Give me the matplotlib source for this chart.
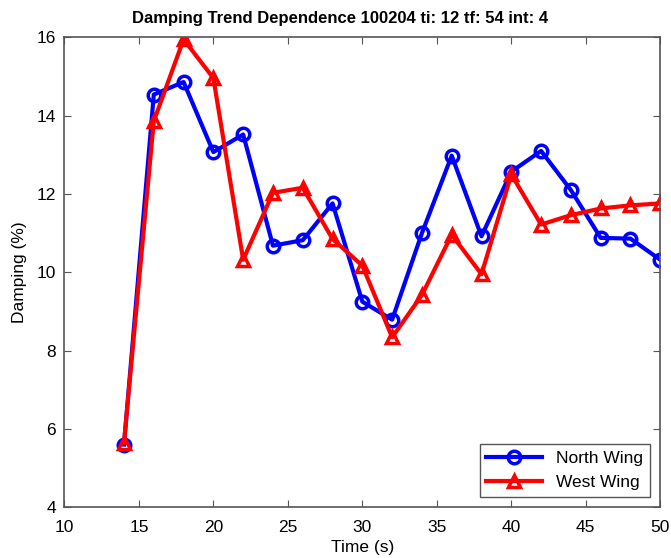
import matplotlib
matplotlib.use("Agg")
import matplotlib.pyplot as plt

plt.rcParams['font.family'] = ['Liberation Sans', 'DejaVu Sans']

# === Data ===
time_s = [14, 16, 18, 20, 22, 24, 26, 28, 30, 32, 34, 36, 38, 40, 42, 44, 46, 48, 50]
north_wing = [5.6, 14.54, 14.86, 13.07, 13.52, 10.68, 10.82, 11.76, 9.25, 8.79,
              11.0, 12.98, 10.92, 12.57, 13.1, 12.1, 10.88, 10.86, 10.32]
west_wing = [5.65, 13.86, 15.95, 14.96, 10.32, 12.03, 12.16, 10.85, 10.17, 8.34,
             9.42, 10.96, 9.95, 12.5, 11.22, 11.46, 11.63, 11.71, 11.76]

xticks = [10, 15, 20, 25, 30, 35, 40, 45, 50]
yticks = [4, 6, 8, 10, 12, 14, 16]

# === Plot ===
fig = plt.figure(figsize=(6.71, 5.58), dpi=100)
ax = fig.add_axes([0.096, 0.091, 0.888, 0.842])

ax.plot(time_s, north_wing, color="#0000ff", linewidth=3, marker="o",
        markersize=9, markerfacecolor="none", markeredgewidth=2.5, label="North Wing")
ax.plot(time_s, west_wing, color="#ff0000", linewidth=3, marker="^",
        markersize=9, markerfacecolor="none", markeredgewidth=2.5, label="West Wing")

ax.set_xlim(10, 50)
ax.set_ylim(4, 16)
ax.set_xticks(xticks)
ax.set_yticks(yticks)
ax.tick_params(direction="in", top=True, right=True, labelsize=12.5,
               length=5, color="#555555")
ax.tick_params(axis="x", pad=9)
ax.tick_params(axis="y", pad=6)
for s in ax.spines.values():
    s.set_color("#555555")
    s.set_linewidth(1.2)

ax.set_xlabel("Time (s)", fontsize=12.5, labelpad=4)
ax.set_ylabel("Damping (%)", fontsize=12.5, labelpad=7)
fig.text(0.507, 0.967, "Damping Trend Dependence 100204 ti: 12 tf: 54 int: 4",
         fontsize=12, fontweight="bold", ha="center", va="center")

leg = ax.legend(loc="lower right", fontsize=12.5, fancybox=False, framealpha=1,
                edgecolor="#555555", borderaxespad=0.6, handlelength=3.2)
leg.get_frame().set_linewidth(1.0)

fig.savefig("out.png", dpi=100)
